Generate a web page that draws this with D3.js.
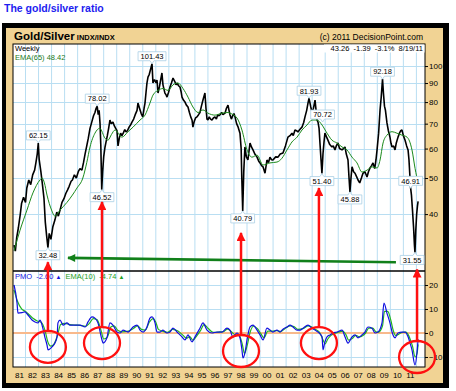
<!DOCTYPE html>
<html>
<head>
<meta charset="utf-8">
<script src="https://cdn.jsdelivr.net/npm/d3@7"></script>
<style>
  body { margin: 0; background: #fff; }
  svg { display: block; font-family: "Liberation Sans", Arial, sans-serif; }
</style>
</head>
<body>
<svg id="chart" width="456" height="391"></svg>
<script>
// ---- data (decimal year, value) ----
const yearTicks = [1981, 1982, 1983, 1984, 1985, 1986, 1987, 1988, 1989, 1990, 1991, 1992, 1993, 1994, 1995, 1996,
  1997, 1998, 1999, 2000, 2001, 2002, 2003, 2004, 2005, 2006, 2007, 2008, 2009, 2010, 2011];
const priceTicks = [40, 50, 60, 70, 80, 90, 100];
const pmoTicks = [-10, 0, 10, 20];

// weekly gold/silver ratio, sampled
const ratio = [
  [1980.62, 33], [1980.72, 31.8], [1980.82, 34.5], [1980.95, 36.7], [1981.1, 40], [1981.2, 42.8], [1981.35, 44.4],
  [1981.5, 43], [1981.6, 47], [1981.75, 49.4], [1981.9, 48], [1982.05, 51], [1982.2, 52.5], [1982.3, 55], [1982.4, 58],
  [1982.48, 62.1], [1982.55, 56], [1982.68, 52], [1982.8, 48], [1982.92, 44], [1983.02, 38], [1983.12, 35],
  [1983.22, 32.5], [1983.32, 35.5], [1983.45, 34.2], [1983.6, 37], [1983.76, 38.6], [1983.9, 40.5], [1984.02, 39.5],
  [1984.15, 41], [1984.3, 43], [1984.45, 44], [1984.6, 45.5], [1984.72, 46.4], [1984.85, 47.5], [1985.0, 49],
  [1985.1, 49.4], [1985.25, 51], [1985.4, 50], [1985.55, 52], [1985.68, 53], [1985.83, 52.5], [1985.95, 55],
  [1986.07, 58], [1986.2, 61], [1986.32, 64], [1986.45, 68], [1986.6, 71], [1986.72, 73.5], [1986.83, 75],
  [1986.92, 77], [1987.0, 78], [1987.08, 74], [1987.15, 76], [1987.22, 70], [1987.28, 61], [1987.35, 46.5],
  [1987.42, 52], [1987.5, 57], [1987.6, 60.5], [1987.7, 63], [1987.78, 65], [1987.88, 68], [1987.98, 71.6],
  [1988.08, 70], [1988.21, 70.7], [1988.32, 69], [1988.42, 68], [1988.52, 67], [1988.6, 61], [1988.7, 64],
  [1988.8, 66], [1988.9, 65], [1989.0, 66], [1989.12, 67.5], [1989.22, 66.5], [1989.32, 67], [1989.45, 68.5],
  [1989.57, 69.5], [1989.67, 70.7], [1989.8, 72], [1989.92, 74], [1990.06, 76], [1990.13, 79.5], [1990.25, 77],
  [1990.38, 74.5], [1990.5, 73], [1990.6, 77], [1990.67, 79.5], [1990.75, 85], [1990.82, 90], [1990.9, 93.4],
  [1991.0, 95], [1991.1, 98], [1991.21, 101.4], [1991.28, 90], [1991.4, 92], [1991.52, 90], [1991.59, 91.7],
  [1991.67, 84.6], [1991.78, 88], [1991.88, 92], [1991.97, 95.8], [1992.05, 89], [1992.15, 86], [1992.2, 84.6],
  [1992.3, 83.5], [1992.36, 82.5], [1992.48, 85], [1992.59, 87.8], [1992.7, 90], [1992.82, 92.8], [1992.95, 91],
  [1993.05, 89], [1993.13, 90], [1993.25, 88.5], [1993.36, 87.8], [1993.45, 85], [1993.51, 82.5], [1993.62, 81],
  [1993.74, 80], [1993.85, 78.5], [1993.97, 77.6], [1994.08, 75], [1994.18, 73], [1994.28, 71.6], [1994.35, 68.5],
  [1994.45, 71], [1994.55, 72.5], [1994.66, 73], [1994.78, 74], [1994.89, 75], [1995.0, 78], [1995.12, 81],
  [1995.2, 83], [1995.27, 84.6], [1995.35, 77], [1995.43, 72], [1995.5, 71.6], [1995.6, 73], [1995.7, 72],
  [1995.81, 71.6], [1995.92, 72.5], [1996.04, 73], [1996.15, 72], [1996.25, 74], [1996.35, 73.5], [1996.43, 74],
  [1996.55, 75], [1996.65, 74], [1996.81, 74.7], [1996.92, 77], [1997.04, 78.5], [1997.12, 76], [1997.19, 74],
  [1997.3, 72], [1997.4, 73.5], [1997.5, 74.5], [1997.58, 73], [1997.7, 70], [1997.82, 68.5], [1997.96, 66],
  [1998.05, 60], [1998.1, 50], [1998.17, 40.8], [1998.25, 52], [1998.34, 60.6], [1998.45, 57], [1998.57, 55.9],
  [1998.65, 59], [1998.73, 62.1], [1998.85, 60.5], [1998.96, 59.5], [1999.1, 58], [1999.27, 56.9], [1999.4, 55.5],
  [1999.5, 54.9], [1999.62, 54], [1999.73, 53.6], [1999.88, 51.5], [2000.03, 55.9], [2000.15, 55], [2000.26, 56.9],
  [2000.38, 56], [2000.49, 55.9], [2000.7, 57], [2000.88, 56.9], [2001.05, 58], [2001.26, 58.4], [2001.45, 61],
  [2001.64, 64.4], [2001.8, 65], [2001.95, 66], [2002.05, 65], [2002.18, 67.3], [2002.3, 67], [2002.41, 66.5],
  [2002.55, 67.5], [2002.72, 68.5], [2002.85, 70.5], [2002.95, 73], [2003.08, 76], [2003.18, 79.5], [2003.26, 81.9],
  [2003.38, 78], [2003.49, 75], [2003.6, 77], [2003.72, 81], [2003.8, 76], [2003.87, 71.6], [2003.95, 70.7],
  [2004.03, 68], [2004.1, 62], [2004.18, 56], [2004.25, 51.4], [2004.33, 58], [2004.4, 62], [2004.48, 66],
  [2004.6, 64.5], [2004.71, 63.2], [2004.85, 61.5], [2005.02, 60.6], [2005.12, 61], [2005.25, 59.5], [2005.35, 61],
  [2005.48, 62.1], [2005.6, 60], [2005.79, 59.5], [2005.9, 60], [2006.02, 60.6], [2006.12, 58], [2006.25, 55.9],
  [2006.33, 50], [2006.4, 45.9], [2006.48, 50], [2006.56, 53.6], [2006.68, 52], [2006.79, 51.5], [2006.9, 50.5],
  [2007.02, 49.4], [2007.15, 48.5], [2007.28, 50], [2007.4, 51.5], [2007.55, 52], [2007.71, 50.3], [2007.82, 52],
  [2007.94, 53.2], [2008.06, 54], [2008.17, 54.9], [2008.3, 53], [2008.4, 56], [2008.48, 59.5], [2008.6, 66],
  [2008.71, 76.2], [2008.8, 82.5], [2008.9, 92.2], [2008.97, 84.6], [2009.05, 78], [2009.12, 76.2], [2009.24, 70.3],
  [2009.35, 67], [2009.47, 64.4], [2009.55, 62], [2009.63, 60.6], [2009.75, 61], [2009.86, 59.5], [2009.95, 62],
  [2010.09, 64.4], [2010.2, 66], [2010.3, 67], [2010.39, 67.3], [2010.5, 65], [2010.63, 63.2], [2010.75, 61],
  [2010.86, 59.5], [2010.93, 56], [2011.01, 50], [2011.06, 46.9], [2011.12, 45], [2011.2, 41], [2011.28, 37],
  [2011.35, 33], [2011.39, 31.55], [2011.45, 36], [2011.52, 40], [2011.58, 42], [2011.63, 43.26]
];

// EMA(65) of the ratio
const ema65 = [
  [1980.62, 31.9], [1981.08, 36.2], [1981.61, 41], [1982.07, 45.6], [1982.61, 49.4], [1982.77, 50], [1982.95, 48.5],
  [1983.15, 45], [1983.5, 41], [1983.76, 39.5], [1984.15, 41], [1984.68, 43], [1985.1, 45], [1985.45, 47],
  [1985.9, 50], [1986.2, 55], [1986.45, 60.6], [1986.83, 66], [1987.2, 68], [1987.6, 64], [1987.83, 63.2],
  [1988.1, 65.5], [1988.37, 67.3], [1988.9, 64.4], [1989.37, 66.6], [1989.75, 68.5], [1990.29, 71.6], [1990.67, 73.8],
  [1991.05, 79.5], [1991.28, 83.5], [1991.67, 86], [1992.05, 87], [1992.44, 86], [1992.82, 89], [1993.2, 90],
  [1993.59, 87], [1993.97, 82.5], [1994.35, 77.6], [1994.74, 75], [1995.12, 76.2], [1995.5, 74.7], [1996.04, 73.8],
  [1996.58, 74.7], [1997.04, 75], [1997.19, 74.7], [1997.73, 72.5], [1998.11, 67.3], [1998.5, 59.5], [1998.88, 56.9],
  [1999.27, 57.6], [1999.73, 54.2], [2000.26, 54.9], [2000.8, 55.2], [2001.18, 56.5], [2001.57, 59.5], [2001.95, 62.5],
  [2002.34, 64.4], [2002.72, 67.3], [2003.1, 69.4], [2003.49, 71.6], [2003.87, 71.6], [2004.26, 69.4], [2004.64, 66],
  [2005.02, 63.2], [2005.4, 62.1], [2005.79, 60.6], [2006.17, 59.5], [2006.56, 56.9], [2006.94, 54.9], [2007.32, 51.9],
  [2007.71, 52.5], [2008.09, 53.6], [2008.48, 53.2], [2008.71, 55.9], [2008.94, 62.1], [2009.24, 65.2], [2009.63, 66.6],
  [2010.0, 66], [2010.39, 65.2], [2010.78, 64.4], [2011.16, 59.5], [2011.4, 53], [2011.63, 48.42]
];

// PMO (blue) and its EMA(10) signal (green)
const pmo = [
  [1980.62, 20], [1980.85, 12.5], [1980.92, 8.3], [1981.23, 8.5], [1981.46, 8.8], [1981.69, 7.5], [1982.0, 5.4],
  [1982.23, 4.6], [1982.46, 4.2], [1982.61, 5.4], [1982.77, 3.3], [1983.0, -2], [1983.15, -5], [1983.23, -7],
  [1983.53, -5.8], [1983.76, -4.2], [1983.92, -1.6], [1983.99, 4.2], [1984.15, 5.4], [1984.38, 3.3], [1984.68, 4.2],
  [1984.91, 3.3], [1985.3, 3.3], [1985.68, 3.3], [1986.07, 2.5], [1986.3, 4.6], [1986.6, 6.7], [1986.83, 6.2],
  [1987.06, 4.2], [1987.37, -2.9], [1987.45, -4.2], [1987.75, -2], [1987.98, 4.2], [1988.21, 3.3], [1988.52, 0.4],
  [1988.75, 0], [1988.98, 1.2], [1989.37, 0.4], [1989.75, 2.5], [1990.06, 3.3], [1990.29, 1.2], [1990.52, 0.4],
  [1990.82, 2.5], [1991.05, 6.2], [1991.21, 6.7], [1991.44, 4.2], [1991.59, 0.4], [1991.82, 0.4], [1992.05, 1.2],
  [1992.36, 0], [1992.59, 0.4], [1992.82, 2], [1993.13, 0.4], [1993.51, -1.6], [1993.74, -2.9], [1993.97, -0.8],
  [1994.28, -3.7], [1994.51, -1.6], [1994.89, 2], [1995.12, 4.2], [1995.43, 1.2], [1995.81, 0], [1996.2, 0.4],
  [1996.58, 0.4], [1996.96, 2], [1997.19, 1.2], [1997.42, -1.6], [1997.73, 0], [1997.96, -2], [1998.11, -7],
  [1998.19, -10.4], [1998.34, -8.3], [1998.5, -2.9], [1998.73, 2.5], [1998.96, 3.3], [1999.27, 1.2], [1999.5, -0.8],
  [1999.73, -2.9], [2000.03, 2], [2000.26, 1.2], [2000.49, 0.4], [2000.8, 1.2], [2001.03, 0.4], [2001.26, 1.6],
  [2001.57, 2.5], [2001.8, 3.3], [2002.03, 2.5], [2002.34, 1.2], [2002.57, 1.2], [2002.8, 2], [2003.18, 3.3],
  [2003.49, 2], [2003.72, 1.2], [2003.95, 0.4], [2004.26, -1.6], [2004.33, -7], [2004.48, -3.7], [2004.64, -1.6],
  [2004.87, -0.8], [2005.1, 0], [2005.4, 0.4], [2005.79, 1.2], [2006.02, -1.6], [2006.25, -4.2], [2006.56, -1.6],
  [2006.79, -0.8], [2007.02, -2], [2007.32, -0.8], [2007.55, 0.4], [2007.78, 2.5], [2008.09, 2], [2008.32, 0],
  [2008.55, 0.4], [2008.86, 4.2], [2009.01, 12.5], [2009.24, 8.3], [2009.47, 4.2], [2009.63, 0.4], [2009.86, -2],
  [2010.09, 0], [2010.39, 0.4], [2010.63, 0.4], [2010.86, -1.6], [2011.01, -4.2], [2011.16, -7], [2011.39, -13.3],
  [2011.55, -7.9], [2011.63, -2.6]
];
const pmoSignal = [
  [1980.62, 18], [1980.9, 13], [1981.2, 10], [1981.5, 9], [1981.8, 7.5], [1982.1, 6], [1982.4, 5], [1982.7, 4.5],
  [1983.0, 1], [1983.2, -3.5], [1983.45, -5.5], [1983.7, -4.5], [1983.95, -1], [1984.2, 3.5], [1984.5, 4],
  [1984.9, 3.5], [1985.3, 3.3], [1985.7, 3.2], [1986.1, 2.8], [1986.4, 4], [1986.7, 6], [1987.0, 5.5], [1987.3, 1],
  [1987.5, -2.5], [1987.8, -1.5], [1988.05, 2.5], [1988.3, 3], [1988.6, 1], [1988.9, 0.5], [1989.4, 0.8],
  [1989.8, 2], [1990.1, 3], [1990.4, 1.5], [1990.7, 1.2], [1991.0, 4.5], [1991.3, 6], [1991.5, 4.5], [1991.7, 1.5],
  [1992.0, 0.8], [1992.4, 0.3], [1992.8, 1.5], [1993.2, 0.8], [1993.6, -1], [1993.85, -2.2], [1994.1, -1.5],
  [1994.35, -3], [1994.6, -1.5], [1994.95, 1.2], [1995.2, 3.5], [1995.5, 2], [1995.9, 0.3], [1996.3, 0.4],
  [1996.7, 0.6], [1997.0, 1.6], [1997.3, 0.5], [1997.6, -0.8], [1997.9, -1], [1998.15, -5], [1998.3, -8.5],
  [1998.5, -5.5], [1998.75, 0.5], [1999.0, 2.8], [1999.3, 1.8], [1999.55, -0.2], [1999.8, -2], [2000.1, 0.8],
  [2000.4, 0.8], [2000.8, 1], [2001.1, 0.6], [2001.4, 1.8], [2001.8, 3], [2002.1, 2.7], [2002.4, 1.5], [2002.8, 1.8],
  [2003.2, 3], [2003.55, 2.2], [2003.8, 1.4], [2004.05, 0.4], [2004.3, -2.5], [2004.5, -4.5], [2004.7, -2.5],
  [2004.95, -1], [2005.2, -0.2], [2005.5, 0.3], [2005.85, 0.8], [2006.1, -0.8], [2006.3, -3], [2006.6, -2.2],
  [2006.85, -1], [2007.1, -1.6], [2007.4, -1], [2007.6, 0], [2007.85, 2], [2008.15, 2], [2008.4, 0.5], [2008.6, 0.4],
  [2008.9, 3], [2009.05, 9], [2009.3, 9], [2009.55, 5], [2009.7, 1.5], [2009.9, -1], [2010.15, -0.5], [2010.45, 0.3],
  [2010.7, 0.4], [2010.9, -1], [2011.05, -3], [2011.2, -5.5], [2011.4, -10], [2011.55, -8.5], [2011.63, -4.74]
];

// annotated highs and lows [year, value]
const highTags = [[1982.48, 62.15], [1987.0, 78.02], [1991.21, 101.43], [2003.26, 81.93], [2004.3, 70.72],
  [2008.9, 92.18], [2011.06, 46.91]];
const lowTags = [[1983.22, 32.48], [1987.37, 46.52], [1998.17, 40.79], [2004.25, 51.40], [2006.4, 45.88],
  [2011.39, 31.55]];

// red arrows: year, arrow tip (ratio), PMO circle centre
const redArrows = [[1983.22, 29.7, -5.8], [1987.37, 43.1, -4.2], [1998.04, 35.6, -7.5], [2004.02, 47, -4.2],
  [2011.55, 28.4, -10]];
const greenArrow = [[1984.76, 30.5], [2009.93, 29.7]];

// ---- layout ----
const L = 13, R = 425, T = 44, SPLIT = 271, B = 367;
const svg = d3.select('#chart');

const x = d3.scaleLinear().domain([1980.54, 2012.16]).range([L, R]);
const yP = d3.scaleLog().domain([28.3, 114.6]).range([SPLIT - 1, T]);
const yM = d3.scaleLinear().domain([-14.17, 25.83]).range([B, SPLIT]);

// page title
svg.append('text')
  .attr('x', 4).attr('y', 12)
  .attr('fill', '#1d1df0')
  .style('font-size', '10.5px').style('font-weight', 'bold')
  .text('The gold/silver ratio');

// frame
svg.append('rect').attr('x', 2).attr('y', 23).attr('width', 447).attr('height', 365).attr('fill', '#000');
svg.append('rect').attr('x', 6).attr('y', 28).attr('width', 437).attr('height', 355).attr('fill', '#f1d394');
svg.append('rect').attr('x', L).attr('y', T).attr('width', R - L).attr('height', B - T).attr('fill', '#fff');

svg.append('clipPath').attr('id', 'clipP')
  .append('rect').attr('x', L).attr('y', T).attr('width', R - L).attr('height', SPLIT - T);
svg.append('clipPath').attr('id', 'clipM')
  .append('rect').attr('x', L).attr('y', SPLIT).attr('width', R - L).attr('height', B - SPLIT);

// grid
const gridColor = '#b9def2';
const grid = svg.append('g');
grid.selectAll('.vg').data(yearTicks)
  .enter().append('line')
  .attr('x1', d => x(d + 0.5)).attr('x2', d => x(d + 0.5))
  .attr('y1', T).attr('y2', B)
  .attr('stroke', gridColor);
grid.selectAll('.hg').data(priceTicks)
  .enter().append('line')
  .attr('x1', L).attr('x2', R)
  .attr('y1', d => Math.round(yP(d)) + 0.5).attr('y2', d => Math.round(yP(d)) + 0.5)
  .attr('stroke', gridColor);
grid.selectAll('.mg').data(pmoTicks.filter(d => d !== 0))
  .enter().append('line')
  .attr('x1', L).attr('x2', R)
  .attr('y1', d => Math.round(yM(d)) + 0.5).attr('y2', d => Math.round(yM(d)) + 0.5)
  .attr('stroke', gridColor);

// PMO zero line
svg.append('line')
  .attr('x1', L).attr('x2', R).attr('y1', yM(0)).attr('y2', yM(0))
  .attr('stroke', '#f8b98c').attr('stroke-width', 2);

// ---- price panel ----
const pricePanel = svg.append('g').attr('clip-path', 'url(#clipP)');
const lineP = d3.line().x(d => x(d[0])).y(d => yP(d[1]));

pricePanel.append('path')
  .datum(ratio)
  .attr('d', lineP)
  .attr('fill', 'none').attr('stroke', '#000').attr('stroke-width', 1.6)
  .attr('stroke-linejoin', 'bevel');

pricePanel.append('path')
  .datum(ema65)
  .attr('d', lineP.curve(d3.curveMonotoneX))
  .attr('fill', 'none').attr('stroke', '#1b8a1b').attr('stroke-width', 1);

// ---- PMO panel ----
const pmoPanel = svg.append('g').attr('clip-path', 'url(#clipM)');
const lineM = d3.line().x(d => x(d[0])).y(d => yM(d[1])).curve(d3.curveMonotoneX);

pmoPanel.append('path')
  .datum(pmoSignal)
  .attr('d', lineM)
  .attr('fill', 'none').attr('stroke', '#22b422').attr('stroke-width', 1.2);
pmoPanel.append('path')
  .datum(pmo)
  .attr('d', lineM)
  .attr('fill', 'none').attr('stroke', '#1010e0').attr('stroke-width', 1.2);

// panel borders
svg.append('rect').attr('x', L).attr('y', T).attr('width', R - L).attr('height', B - T)
  .attr('fill', 'none').attr('stroke', '#000').attr('stroke-width', 1);
svg.append('line').attr('x1', L).attr('x2', R).attr('y1', SPLIT).attr('y2', SPLIT)
  .attr('stroke', '#000').attr('stroke-width', 1.5);

// ---- axes ----
const axisP = svg.append('g')
  .attr('transform', `translate(${R},0)`)
  .call(d3.axisRight(yP).tickValues(priceTicks).tickSize(3).tickFormat(d3.format('d')));
const axisM = svg.append('g')
  .attr('transform', `translate(${R},0)`)
  .call(d3.axisRight(yM).tickValues(pmoTicks).tickSize(3));
const axisX = svg.append('g')
  .attr('transform', `translate(0,${B})`)
  .call(d3.axisBottom(x).tickValues(yearTicks).tickSize(0).tickPadding(5).tickFormat(d => String(d).slice(2)));

[axisP, axisM, axisX].forEach(a => {
  a.select('.domain').remove();
  a.selectAll('text').style('font-size', '8px').attr('fill', '#000').style('font-family', '"Liberation Sans", Arial, sans-serif');
  a.selectAll('line').attr('stroke', '#000');
});
axisP.selectAll('text').attr('x', 4);
axisM.selectAll('text').attr('x', 4);

// ---- header texts ----
const head = svg.append('text').attr('x', L + 1).attr('y', 40);
head.append('tspan').text('Gold/Silver').style('font-size', '11.5px').style('font-weight', 'bold');
head.append('tspan').text(' INDX/INDX').style('font-size', '7.5px').style('font-weight', 'bold');

svg.append('text')
  .attr('x', R - 2).attr('y', 40).attr('text-anchor', 'end')
  .style('font-size', '8.5px')
  .text('(c) 2011 DecisionPoint.com');

svg.append('rect').attr('x', 324).attr('y', T + 0.5).attr('width', R - 324 - 0.5).attr('height', 8).attr('fill', '#fff');
svg.append('text')
  .attr('x', R - 2).attr('y', 51).attr('text-anchor', 'end')
  .style('font-size', '7.5px')
  .attr('xml:space', 'preserve')
  .text('43.26  -1.39  -3.1%  8/19/11');

svg.append('text').attr('x', L + 2).attr('y', 51).style('font-size', '7.5px').text('Weekly');
svg.append('text').attr('x', L + 2).attr('y', 60).style('font-size', '7.5px').attr('fill', '#1b7a1b').text('EMA(65) 48.42');

const leg = svg.append('text').attr('x', L + 2).attr('y', 279).style('font-size', '7.5px').attr('xml:space', 'preserve');
leg.append('tspan').attr('fill', '#1010e0').text('PMO  -2.60 ');
leg.append('tspan').attr('fill', '#1010e0').style('font-size', '6px').text('▲');
leg.append('tspan').attr('fill', '#22a022').text('  EMA(10)  -4.74 ');
leg.append('tspan').attr('fill', '#22a022').style('font-size', '6px').text('▲');

// ---- value tags ----
function tag (d, above) {
  const px = x(d[0]), py = yP(d[1]);
  const g = svg.append('g');
  const t = g.append('text').style('font-size', '7.5px').attr('text-anchor', 'middle').text(d[1].toFixed(2));
  const w = t.node().getComputedTextLength() + 5, h = 9;
  const cx = Math.max(L + w / 2 + 1, Math.min(R - w / 2 - 1, px));
  const by = above ? py - 3 - h : py + 3;
  g.insert('path', 'text')
    .attr('d', above
      ? `M${cx - w / 2},${by}h${w}v${h}H${px + 2}l-2,3l-2,-3H${cx - w / 2}Z`
      : `M${cx - w / 2},${by}H${px - 2}l2,-3l2,3H${cx + w / 2}v${h}H${cx - w / 2}Z`)
    .attr('fill', '#fff').attr('stroke', '#a9cfe4').attr('stroke-width', 0.8);
  t.attr('x', cx).attr('y', by + 7.3);
}
highTags.forEach(d => tag(d, true));
lowTags.forEach(d => tag(d, false));

// ---- arrows & circles ----
const defs = svg.append('defs');
defs.append('marker').attr('id', 'redHead')
  .attr('markerUnits', 'userSpaceOnUse').attr('markerWidth', 9).attr('markerHeight', 9)
  .attr('viewBox', '0 0 10 10').attr('refX', 9).attr('refY', 5).attr('orient', 'auto')
  .append('path').attr('d', 'M0,0L10,5L0,10Z').attr('fill', '#ff1010');
defs.append('marker').attr('id', 'greenHead')
  .attr('markerUnits', 'userSpaceOnUse').attr('markerWidth', 9).attr('markerHeight', 8)
  .attr('viewBox', '0 0 10 10').attr('refX', 9).attr('refY', 5).attr('orient', 'auto')
  .append('path').attr('d', 'M0,0L10,5L0,10Z').attr('fill', '#11801a');

svg.append('line')
  .attr('x1', x(greenArrow[1][0])).attr('y1', yP(greenArrow[1][1]))
  .attr('x2', x(greenArrow[0][0])).attr('y2', yP(greenArrow[0][1]))
  .attr('stroke', '#11801a').attr('stroke-width', 2.6)
  .attr('marker-end', 'url(#greenHead)');

const rx = 18, ry = 16;
svg.selectAll('.redArrow').data(redArrows)
  .enter().append('line')
  .attr('x1', d => x(d[0])).attr('x2', d => x(d[0]))
  .attr('y1', d => yM(d[2]) - ry).attr('y2', d => yP(d[1]))
  .attr('stroke', '#ff1010').attr('stroke-width', 2.5)
  .attr('marker-end', 'url(#redHead)');
svg.selectAll('.redCircle').data(redArrows)
  .enter().append('ellipse')
  .attr('cx', d => x(d[0])).attr('cy', d => yM(d[2]))
  .attr('rx', rx).attr('ry', ry)
  .attr('fill', 'none').attr('stroke', '#ff1010').attr('stroke-width', 2.3);
</script>
</body>
</html>
